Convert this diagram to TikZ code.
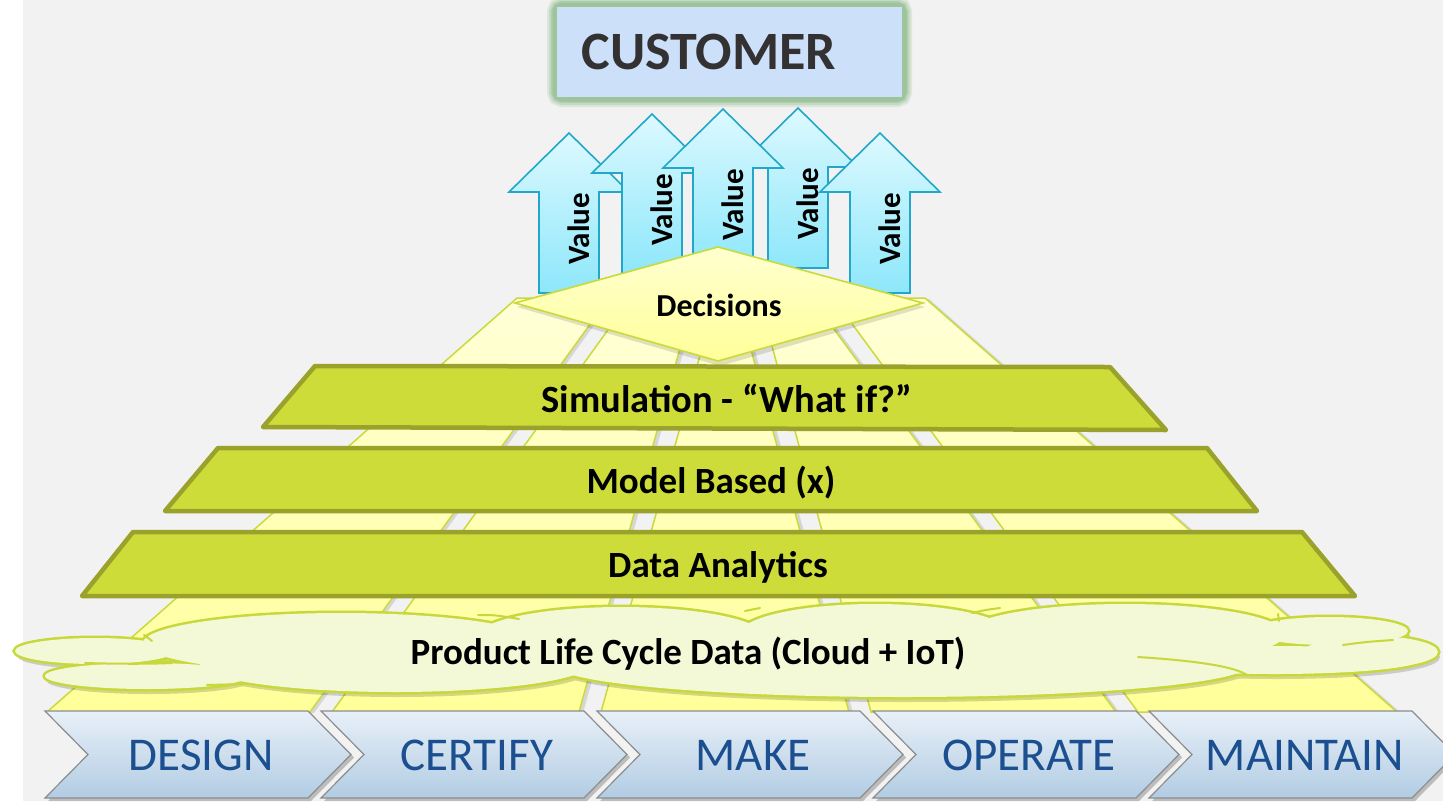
\documentclass[tikz,border=0pt]{standalone}
\usepackage{fontspec}
\setmainfont{Carlito}
\definecolor{bggray}{HTML}{F2F2F2}
\definecolor{bandfill}{HTML}{CDDC39}
\definecolor{bandline}{HTML}{9AA22B}
\definecolor{raytop}{HTML}{FFFFD8}
\definecolor{raybot}{HTML}{FFFF99}
\definecolor{rayline}{HTML}{C9DA3C}
\definecolor{arrtop}{HTML}{DDF9FF}
\definecolor{arrbot}{HTML}{8DE7FA}
\definecolor{arrline}{HTML}{22A7CA}
\definecolor{cloudfill}{HTML}{F3F8D6}
\definecolor{cloudline}{HTML}{C6D83A}
\definecolor{chevtop}{HTML}{E8F0F8}
\definecolor{chevbot}{HTML}{B2CCE3}
\definecolor{chevline}{HTML}{8C8C8C}
\definecolor{chevtext}{HTML}{1B4F8F}
\definecolor{custfill}{HTML}{CCE0FA}
\definecolor{custglow}{HTML}{9CC49A}
\definecolor{custtext}{HTML}{333131}
\definecolor{diamtop}{HTML}{FFFFD0}
\definecolor{diambot}{HTML}{FFFF9A}
\definecolor{shadowgray}{HTML}{D6D6D6}
\begin{document}
\begin{tikzpicture}[x=1pt,y=-1pt,
  valtxt/.style={rotate=90, font=\bfseries\fontsize{31}{31}\selectfont, text=black, inner sep=0pt},
  bandtxt/.style={font=\bfseries\fontsize{37}{37}\selectfont, text=black, inner sep=0pt},
  chevtxt/.style={font=\fontsize{47}{47}\selectfont, text=chevtext, inner sep=0pt},
  bandshape/.style={fill=bandfill, draw=bandline, line width=4.5pt, line join=round},
  rayshape/.style={top color=raytop, bottom color=raybot, draw=rayline, line width=1.5pt},
  arrowshape/.style={top color=arrtop, bottom color=arrbot, draw=arrline, line width=1.6pt, line join=miter},
  chevshape/.style={top color=chevtop, bottom color=chevbot, draw=chevline, line width=1.2pt},
  cloudstroke/.style={draw=cloudline, line width=2pt, line cap=round}
]
\useasboundingbox (0,0) rectangle (1443,801);
\fill[white] (0,0) rectangle (1443,801);
\fill[bggray] (23,0) rectangle (1443,801);

% ---- fan of rays
\def\rays{517/609/47/310, 631/694/332/579, 716/737/601/849, 759/811/871/1116, 833/925/1138/1397}
\foreach \a/\b/\c/\d in \rays {
  \fill[shadowgray] (\a+4,299) -- (\b+4,299) -- (\d+4,713) -- (\c+4,713) -- cycle;
}
\foreach \a/\b/\c/\d in \rays {
  \path[rayshape] (\a,298) -- (\b,298) -- (\d,712) -- (\c,712) -- cycle;
}

% ---- value arrows (order 1,2,4,5,3)
\foreach \cx/\ty/\n in {569/133/1, 652/114/2, 798/108/4, 880/133/5, 723/109/3} {
  \path[arrowshape] (\cx,\ty) -- ++(60,59) -- ++(-30,0) -- ++(0,101) -- ++(-60,0) -- ++(0,-101) -- ++(-30,0) -- cycle;
  \node[valtxt] (val\n) at (\cx+10,\ty+96) {Value};
}

% ---- decisions diamond
\fill[black, opacity=0.12] (517,307) -- (720,251) -- (925,307) -- (720,366) -- cycle;
\path[top color=diamtop, bottom color=diambot, draw=rayline, line width=1.6pt, line join=miter]
  (515,303) -- (718,247) -- (923,303) -- (718,361) -- cycle;
\node[font=\bfseries\fontsize{32}{32}\selectfont, inner sep=0pt] (dec) at (719,305) {Decisions};

% ---- bands
\path[bandshape] (315,366) -- (1110,367) -- (1166,430) -- (263,427) -- cycle;
\node[bandtxt, font=\bfseries\fontsize{38.5}{38.5}\selectfont] (sim) at (727,398) {Simulation - “What if?”};
\path[bandshape] (218,448) -- (1207,448) -- (1257,511) -- (165,511) -- cycle;
\node[bandtxt] (model) at (711,482.5) {Model Based (x)};
\path[bandshape] (133,532) -- (1302,532) -- (1355,596) -- (82,596) -- cycle;
\node[bandtxt] (data) at (718,567) {Data Analytics};

% ---- cloud
\def\lobes{95/651/80/13, 147/676/102/13, 341/643/198/30, 621/637/144/30, 875/634/135/30, 1125/634/160/30, 1329/631/79/14, 1371/652/67/16, 1275/660/145/14, 902/665/347/32, 395/664/195/28}
\begin{scope}[transparency group, opacity=0.16]
\foreach \cx/\cy/\rx/\ry in \lobes {
  \fill[black] (\cx+2,\cy+5) ellipse [x radius=\rx pt, y radius=\ry pt];
}
\end{scope}
\foreach \cx/\cy/\rx/\ry in \lobes {
  \draw[cloudline, line width=5pt] (\cx,\cy) ellipse [x radius=\rx pt, y radius=\ry pt];
}
\foreach \cx/\cy/\rx/\ry in \lobes {
  \fill[cloudfill] (\cx,\cy) ellipse [x radius=\rx pt, y radius=\ry pt];
}
\fill[cloudfill] (260,635) rectangle (1250,670);
\draw[cloudstroke] (85,663) .. controls (120,664) and (150,664) .. (172,663);
\draw[cloudstroke] (207,685) -- (245,684);
\draw[cloudstroke] (144,635) .. controls (147,637) .. (152,641);
\draw[cloudstroke] (478,615) .. controls (495,615) .. (519,619);
\draw[cloudstroke] (745,611) .. controls (752,609) .. (760,608);
\draw[cloudstroke] (972,613) .. controls (985,610) .. (1000,608);
\draw[cloudstroke] (1278,614) -- (1279,621);
\draw[cloudstroke] (1343,645) .. controls (1365,642) .. (1393,640);
\draw[cloudstroke] (1138,657) .. controls (1200,661) and (1235,667) .. (1247,675);
\node[bandtxt] (cloud) at (688,654) {Product Life Cycle Data (Cloud + IoT)};

% ---- chevrons
\foreach \x/\lab [count=\i] in {45/DESIGN, 321/CERTIFY, 597/MAKE, 873/OPERATE, 1149/MAINTAIN} {
  \fill[black, opacity=0.22] (\x+3,714) -- ++(263,0) -- ++(43,43.5) -- ++(-43,43.5) -- ++(-263,0) -- ++(43,-43.5) -- cycle;
  \path[chevshape] (\x,711) -- ++(263,0) -- ++(43,43.5) -- ++(-43,43.5) -- ++(-263,0) -- ++(43,-43.5) -- cycle;
  \node[chevtxt] (chev\i) at (\x+156,755) {\lab};
}

% ---- customer box
\foreach \w/\o in {20/0.25, 16/0.35, 12/0.55, 9/0.9} {
  \draw[custglow, line width=\w pt, opacity=\o, rounded corners=5pt] (557,7) rectangle (902,97);
}
\fill[custfill] (557,7) rectangle (902,97);
\node[font=\bfseries\fontsize{54}{54}\selectfont, text=custtext, inner sep=0pt] (cust) at (709,52) {CUSTOMER};
\end{tikzpicture}
\end{document}
